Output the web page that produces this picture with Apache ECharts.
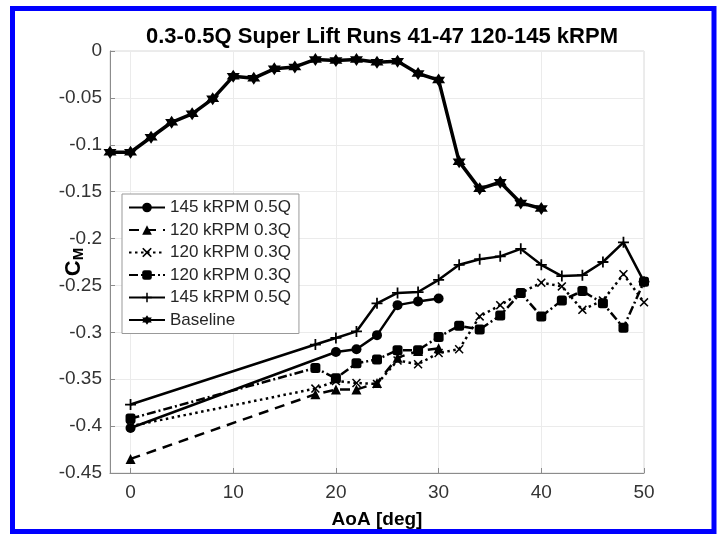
<!DOCTYPE html>
<html>
<head>
<meta charset="utf-8">
<script src="https://cdn.jsdelivr.net/npm/echarts@6/dist/echarts.min.js"></script>
<style>
html, body { margin: 0; padding: 0; background: #fff; }
#main { width: 722px; height: 535px; }
</style>
</head>
<body>
<div id="main"></div>
<script>
// angle of attack (deg) and pitching moment coefficient
var aoaBase = [-2, 0, 2, 4, 6, 8, 10, 12, 14, 16, 18, 20, 22, 24, 26, 28, 30, 32, 34, 36, 38, 40];
var cmBase = [-0.108, -0.108, -0.092, -0.076, -0.067, -0.051, -0.027, -0.029, -0.019, -0.017, -0.009,
    -0.010, -0.009, -0.012, -0.011, -0.024, -0.031, -0.118, -0.147, -0.140, -0.162, -0.168];

var aoa145a = [0, 20, 22, 24, 26, 28, 30];
var cm145a = [-0.402, -0.321, -0.318, -0.303, -0.271, -0.267, -0.264];

var aoa120a = [0, 18, 20, 22, 24, 26, 28, 30];
var cm120a = [-0.435, -0.366, -0.361, -0.361, -0.354, -0.327, -0.320, -0.317];

var aoaLong = [0, 18, 20, 22, 24, 26, 28, 30, 32, 34, 36, 38, 40, 42, 44, 46, 48, 50];
var cm120b = [-0.400, -0.360, -0.352, -0.354, -0.355, -0.330, -0.334, -0.322, -0.318, -0.283, -0.271,
    -0.258, -0.247, -0.251, -0.276, -0.266, -0.238, -0.268];
var cm120c = [-0.392, -0.338, -0.349, -0.333, -0.329, -0.319, -0.319, -0.305, -0.293, -0.297, -0.282,
    -0.258, -0.283, -0.266, -0.256, -0.269, -0.295, -0.246];
var cm145b = [-0.377, -0.313, -0.306, -0.299, -0.269, -0.258, -0.257, -0.244, -0.228, -0.222, -0.219,
    -0.211, -0.228, -0.240, -0.239, -0.225, -0.204, -0.246];

// legend labels (trailing spaces keep duplicate names apart)
var names = ['145 kRPM 0.5Q', '120 kRPM 0.3Q', '120 kRPM 0.3Q ', '120 kRPM 0.3Q  ', '145 kRPM 0.5Q ', 'Baseline'];

var plusSym = 'path://M4.2,0H5.8V4.2H10V5.8H5.8V10H4.2V5.8H0V4.2H4.2Z';
var crossSym = 'path://M0,1.2L1.2,0L5,3.8L8.8,0L10,1.2L6.2,5L10,8.8L8.8,10L5,6.2L1.2,10L0,8.8L3.8,5Z';
var hexSym = 'path://M5,0L6.44,2.5L9.33,2.5L7.89,5L9.33,7.5L6.44,7.5L5,10L3.56,7.5L0.67,7.5L2.11,5L0.67,2.5L3.56,2.5Z';

function pairs(xs, ys) {
    return xs.map(function (x, i) { return [x, ys[i]]; });
}

function line(name, xs, ys, symbol, size, type, width) {
    return {
        name: name,
        type: 'line',
        data: pairs(xs, ys),
        symbol: symbol,
        symbolSize: size,
        showAllSymbol: true,
        lineStyle: { color: '#000', width: width || 2.5, type: type },
        itemStyle: { color: '#000' },
        emphasis: { disabled: true },
        animation: false
    };
}

var dom = document.getElementById('main');
var myChart = echarts.init(dom);

var option = {
    backgroundColor: '#fff',
    textStyle: { fontFamily: 'Liberation Sans, Arial, sans-serif' },
    title: {
        text: '0.3-0.5Q Super Lift Runs 41-47 120-145 kRPM',
        left: 141,
        top: 21,
        textStyle: { fontSize: 22, fontWeight: 'bold', color: '#000' }
    },
    graphic: [{
        type: 'rect',
        shape: { x: 12.5, y: 8.5, width: 701.5, height: 523 },
        style: { fill: 'none', stroke: '#0000ff', lineWidth: 5 },
        silent: true
    }],
    grid: {
        left: 110, right: 78, top: 51, bottom: 62,
        show: true, borderColor: '#d9d9d9', borderWidth: 1
    },
    legend: {
        orient: 'vertical',
        left: 122,
        top: 194,
        padding: [5, 8, 5, 6],
        itemWidth: 36,
        itemHeight: 12,
        itemGap: 5.5,
        borderColor: '#999',
        borderWidth: 1,
        backgroundColor: '#fff',
        selectedMode: false,
        textStyle: { fontSize: 17, color: '#262626' },
        formatter: function (n) { return n.trim(); },
        data: names
    },
    xAxis: {
        type: 'value',
        min: -2,
        max: 50,
        splitNumber: 5,
        name: 'AoA [deg]',
        nameLocation: 'middle',
        nameGap: 37,
        nameMoveOverlap: false,
        nameTextStyle: { fontSize: 19, fontWeight: 'bold', color: '#000' },
        axisLine: { show: true, onZero: false, lineStyle: { color: '#8c8c8c' } },
        axisTick: { show: true, inside: true, length: 5, lineStyle: { color: '#8c8c8c' } },
        axisLabel: { showMinLabel: false, fontSize: 19, color: '#333', margin: 10 },
        splitLine: { show: true, lineStyle: { color: '#ebebeb' } }
    },
    yAxis: {
        type: 'value',
        min: -0.45,
        max: 0,
        interval: 0.05,
        name: '{c|C}{m|M}',
        nameLocation: 'middle',
        nameGap: 24,
        nameMoveOverlap: false,
        nameTextStyle: {
            rich: {
                c: { fontSize: 22, fontWeight: 'bold', color: '#000' },
                m: { fontSize: 15, fontWeight: 'bold', color: '#000', padding: [10, 0, 0, 0] }
            }
        },
        axisLine: { show: true, onZero: false, lineStyle: { color: '#8c8c8c' } },
        axisTick: { show: true, inside: true, length: 5, lineStyle: { color: '#8c8c8c' } },
        axisLabel: { fontSize: 19, color: '#333', margin: 8 },
        splitLine: { show: true, lineStyle: { color: '#ebebeb' } }
    },
    series: [
        line(names[0], aoa145a, cm145a, 'circle', 10, 'solid'),
        line(names[1], aoa120a, cm120a, 'triangle', 10, [10, 7]),
        line(names[2], aoaLong, cm120b, crossSym, 9, [2.5, 3.5]),
        line(names[3], aoaLong, cm120c, 'roundRect', 10, [9, 3, 2, 3]),
        line(names[4], aoaLong, cm145b, plusSym, 11, 'solid'),
        line(names[5], aoaBase, cmBase, hexSym, 13, 'solid', 3.5)
    ]
};

if (option && typeof option === 'object') {
    myChart.setOption(option, true);
}
</script>
</body>
</html>
